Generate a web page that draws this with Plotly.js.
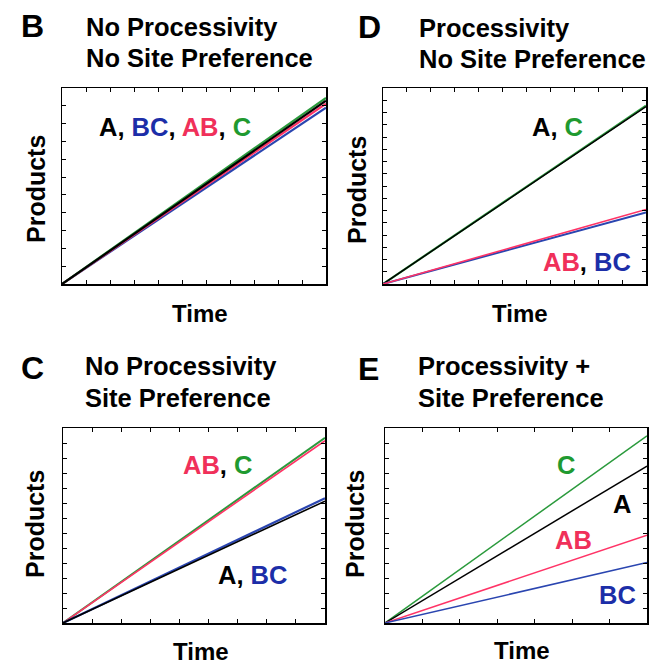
<!DOCTYPE html>
<html>
<head>
<meta charset="utf-8">
<script src="https://cdn.plot.ly/plotly-3.0.1.min.js"></script>
<style>html,body{margin:0;padding:0;background:#fff;}#chart{width:655px;height:667px;}</style>
</head>
<body>
<div id="chart"></div>
<script>
// ---- data ----
const time = [0, 1];
const panelB_A  = [0, 0.935];
const panelB_BC = [0, 0.900];
const panelB_AB = [0, 0.920];
const panelB_C  = [0, 0.950];

const panelD_A  = [0, 0.905];
const panelD_C  = [0, 0.910];
const panelD_AB = [0, 0.380];
const panelD_BC = [0, 0.365];

const panelC_A  = [0, 0.625];
const panelC_BC = [0, 0.640];
const panelC_AB = [0, 0.935];
const panelC_C  = [0, 0.950];

const panelE_A  = [0, 0.805];
const panelE_BC = [0, 0.310];
const panelE_AB = [0, 0.450];
const panelE_C  = [0, 0.960];

const panelLetters = ["B", "D", "C", "E"];
const panelTitles = [
  ["No Processivity", "No Site Preference"],
  ["Processivity", "No Site Preference"],
  ["No Processivity", "Site Preference"],
  ["Processivity +", "Site Preference"]
];

// ---- styling ----
const W = 655, H = 667;
const FONT = "Liberation Sans, Arial, Helvetica, sans-serif";
const colA = "#000000", colBC = "#2a45b0", colAB = "#ff3366", colC = "#2a9a3c";
const txtBC = "#1c2ea8", txtAB = "#f0305a", txtC = "#1f9a30";
const px = x => x / W;
const py = y => 1 - y / H;

function tr(xa, ya, y, color, w) {
  return {x: time, y: y, xaxis: xa, yaxis: ya, mode: "lines",
          line: {color: color, width: w}, showlegend: false, hoverinfo: "skip"};
}
const data = [
  tr("x", "y", panelB_BC, colBC, 2.2),
  tr("x", "y", panelB_AB, colAB, 2.2),
  tr("x", "y", panelB_C, colC, 2.2),
  tr("x", "y", panelB_A, colA, 2.2),

  tr("x2", "y2", panelD_C, colC, 2.2),
  tr("x2", "y2", panelD_A, colA, 1.5),
  tr("x2", "y2", panelD_BC, colBC, 2),
  tr("x2", "y2", panelD_AB, colAB, 1.6),

  tr("x3", "y3", panelC_C, colC, 2),
  tr("x3", "y3", panelC_AB, colAB, 1.6),
  tr("x3", "y3", panelC_BC, colBC, 2.2),
  tr("x3", "y3", panelC_A, colA, 1.6),

  tr("x4", "y4", panelE_C, colC, 1.5),
  tr("x4", "y4", panelE_A, colA, 1.5),
  tr("x4", "y4", panelE_AB, colAB, 1.5),
  tr("x4", "y4", panelE_BC, colBC, 1.5)
];

function axis(dom, dt, anchor) {
  return {domain: dom, range: [0, 1], dtick: dt, tick0: 0, ticks: "inside", ticklen: 4,
          tickwidth: 1, tickcolor: "#000", showticklabels: false, showgrid: false, zeroline: false,
          showline: true, linecolor: "#000", linewidth: 1.5, mirror: "ticks", anchor: anchor,
          fixedrange: true};
}

const layout = {
  width: W, height: H, margin: {l: 0, r: 0, t: 0, b: 0},
  paper_bgcolor: "#fff", plot_bgcolor: "#fff",
  font: {family: FONT, color: "#000"},
  xaxis:  axis([px(62), px(326)], 1/11, "y"),
  yaxis:  axis([py(284), py(88)], 1/11, "x"),
  xaxis2: axis([px(383), px(646)], 1/11, "y2"),
  yaxis2: axis([py(284), py(88)], 1/16, "x2"),
  xaxis3: axis([px(63), px(325)], 1/9, "y3"),
  yaxis3: axis([py(623), py(428)], 1/13, "x3"),
  xaxis4: axis([px(385), px(647)], 1/7, "y4"),
  yaxis4: axis([py(623), py(428)], 1/13, "x4"),
  annotations: []
};

const A = layout.annotations;
function ann(text, x, y, size, opts) {
  A.push(Object.assign({text: text, x: px(x), y: py(y), xref: "paper", yref: "paper",
    showarrow: false, xanchor: "center", yanchor: "middle",
    font: {family: FONT, size: size, color: "#000"}}, opts || {}));
}

// panel letters and titles
const letterPos = [[19, 26], [356, 27], [19, 368], [356, 369]];
const titlePos = [[84, 27, 58], [417, 28, 59], [83, 366, 398], [416, 366, 398]];
panelLetters.forEach((L, i) => {
  ann("<b>" + L + "</b>", letterPos[i][0], letterPos[i][1], 32, {xanchor: "left"});
  ann("<b>" + panelTitles[i][0] + "</b>", titlePos[i][0], titlePos[i][1], 25.5, {xanchor: "left"});
  ann("<b>" + panelTitles[i][1] + "</b>", titlePos[i][0], titlePos[i][2], 25.5, {xanchor: "left"});
});

// axis titles
const prodPos = [[36, 189], [357, 190], [35, 524], [355, 524]];
const timePos = [[200, 313], [520, 313], [201, 651], [522, 650]];
prodPos.forEach(p => ann("<b>Products</b>", p[0], p[1], 25, {textangle: -90}));
timePos.forEach(p => ann("<b>Time</b>", p[0], p[1], 24, {borderpad: 0}));

const c = (t, col) => "<span style='color:" + col + "'>" + t + "</span>";
// in-plot labels
const LS = 25.5;
ann("<b>A, " + c("BC", txtBC) + ", " + c("AB", txtAB) + ", " + c("C", txtC) + "</b>", 175, 127, LS);
ann("<b>A, " + c("C", txtC) + "</b>", 557, 127, LS);
ann("<b>" + c("AB", txtAB) + ", " + c("BC", txtBC) + "</b>", 587, 262, LS);
ann("<b>" + c("AB", txtAB) + ", " + c("C", txtC) + "</b>", 218, 465, LS);
ann("<b>A, " + c("BC", txtBC) + "</b>", 252, 575, LS);
ann("<b>" + c("C", txtC) + "</b>", 566, 465, LS);
ann("<b>A</b>", 622, 504, LS);
ann("<b>" + c("AB", txtAB) + "</b>", 573, 540, LS);
ann("<b>" + c("BC", txtBC) + "</b>", 617, 595, LS);

Plotly.newPlot("chart", data, layout, {staticPlot: true, displayModeBar: false});
</script>
</body>
</html>
